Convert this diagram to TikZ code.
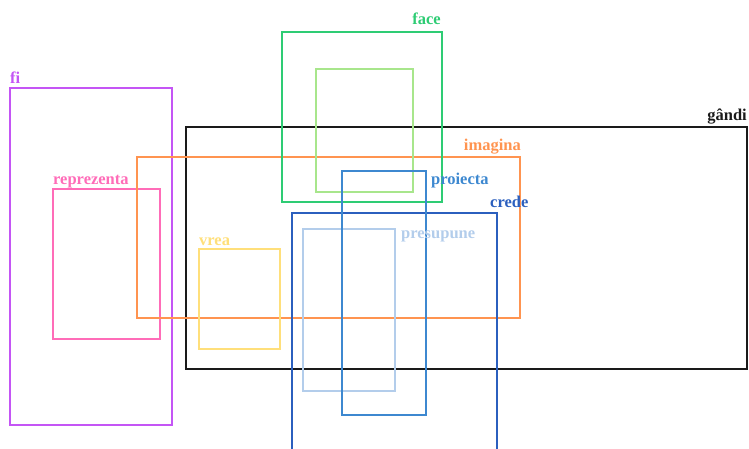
\documentclass[tikz,border=0pt]{standalone}
\usepackage{fontspec}
\setmainfont{Liberation Serif}
\definecolor{cfi}{HTML}{C455F5}
\definecolor{crep}{HTML}{FF6CB8}
\definecolor{cgandi}{HTML}{1A1A1A}
\definecolor{cimag}{HTML}{FF9450}
\definecolor{cface}{HTML}{2ECC74}
\definecolor{cfacein}{HTML}{A8E68C}
\definecolor{cproi}{HTML}{3D88D0}
\definecolor{ccrede}{HTML}{2B5FBE}
\definecolor{cpres}{HTML}{B3CDEB}
\definecolor{cvrea}{HTML}{FFDF7A}
\tikzset{
  setbox/.style={draw=#1, line width=2pt},
  setlabel/.style={text=#1, font=\bfseries\fontsize{16.5}{16.5}\selectfont, inner sep=0pt}
}
\begin{document}
\begin{tikzpicture}[x=1pt,y=-1pt]
\useasboundingbox (0,0) rectangle (749,448);
% sets as rectangles
\draw[setbox=cfi] (10,88) rectangle (172,425);
\draw[setbox=crep] (53,189) rectangle (160,339);
\draw[setbox=cgandi] (186,127) rectangle (747,369);
\draw[setbox=cimag] (137,157) rectangle (520,318);
\draw[setbox=cface] (282,32) rectangle (442,202);
\draw[setbox=cfacein] (316,69) rectangle (413,192);
\draw[setbox=cvrea] (199,249) rectangle (280,349);
\draw[setbox=cpres] (303,229) rectangle (395,391);
\draw[setbox=ccrede] (292,213) rectangle (497,460);
\draw[setbox=cproi] (342,171) rectangle (426,415);
% labels
\node[setlabel=cfi, anchor=base west] (lfi) at (10,83) {fi};
\node[setlabel=crep, anchor=base west] (lrep) at (53,184) {reprezenta};
\node[setlabel=cgandi, anchor=base east] (lgandi) at (747,120) {gândi};
\node[setlabel=cimag, anchor=base east] (limag) at (521,150) {imagina};
\node[setlabel=cface, anchor=base east] (lface) at (441,24) {face};
\node[setlabel=cproi, anchor=base west] (lproi) at (431,184) {proiecta};
\node[setlabel=ccrede, anchor=base west] (lcrede) at (490,207) {crede};
\node[setlabel=cpres, anchor=base west] (lpres) at (401,238) {presupune};
\node[setlabel=cvrea, anchor=base west] (lvrea) at (199,245) {vrea};
\end{tikzpicture}
\end{document}
